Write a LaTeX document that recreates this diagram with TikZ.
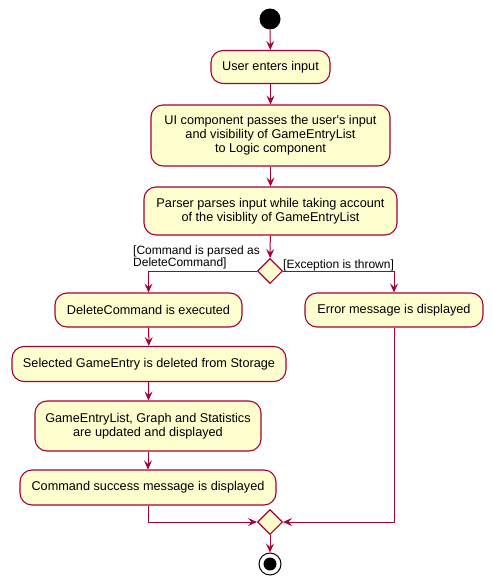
\documentclass[tikz,border=0pt]{standalone}
\usepackage{fontspec}
\setmainfont{Liberation Sans}
\usetikzlibrary{arrows.meta,shapes.geometric}
\definecolor{umlred}{HTML}{A80036}
\definecolor{umlfill}{HTML}{FEFECE}
\tikzset{
  act/.style={draw=umlred, fill=umlfill, line width=1.1pt, rounded corners=12pt, align=center,
    inner sep=0pt, font=\fontsize{12.7}{14}\selectfont},
  flow/.style={draw=umlred, line width=1pt, -{Stealth[length=9pt,width=8pt,inset=3.5pt]}},
  dec/.style={diamond, draw=umlred, fill=umlfill, line width=1.1pt, minimum width=25pt, minimum height=25pt, inner sep=0pt},
  guard/.style={font=\fontsize{12}{12}\selectfont, inner sep=0pt, align=left},
}
\begin{document}
\begin{tikzpicture}[x=1pt,y=-1pt]
\useasboundingbox (0,0) rectangle (492,586);
\node[circle, fill=black, minimum size=21pt, inner sep=0pt] (start) at (270,19) {};
\node[act, minimum width=119pt, minimum height=33pt] (u) at (270.5,67) {User enters input};
\node[act, minimum width=239pt, minimum height=61pt] (ui) at (270.5,135.5) {UI component passes the user\textquotesingle s input\\and visibility of GameEntryList\\to Logic component};
\node[act, minimum width=253pt, minimum height=48pt] (p) at (270.5,211) {Parser parses input while taking account\\of the visiblity of GameEntryList};
\node[dec] (d) at (270,271) {};
\node[act, minimum width=187pt, minimum height=34pt] (del) at (148.5,310) {DeleteCommand is executed};
\node[act, minimum width=178pt, minimum height=34pt] (err) at (394,310) {Error message is displayed};
\node[act, minimum width=274pt, minimum height=35pt] (sel) at (149,364) {Selected GameEntry is deleted from Storage};
\node[act, minimum width=226pt, minimum height=50pt] (gel) at (148,426) {GameEntryList, Graph and Statistics\\are updated and displayed};
\node[act, minimum width=256pt, minimum height=35pt] (cs) at (148,487.5) {Command success message is displayed};
\node[dec] (m) at (270,522) {};
\node[circle, draw=black, fill=white, line width=1pt, minimum size=22pt, inner sep=0pt] (endo) at (270,564) {};
\node[circle, fill=black, minimum size=13pt, inner sep=0pt] (endi) at (270,564) {};
\node[guard, anchor=north west] (lg) at (133,246) {[Command is parsed as\\DeleteCommand]};
\node[guard, anchor=west] (rg) at (283,265) {[Exception is thrown]};
\coordinate (lc) at (del.north |- d.west);
\coordinate (rc) at (err.north |- d.east);
\coordinate (lb) at (cs.south |- m.west);
\coordinate (rb) at (err.south |- m.east);
\draw[flow] (start) -- (u);
\draw[flow] (u) -- (ui);
\draw[flow] (ui) -- (p);
\draw[flow] (p) -- (d);
\draw[flow] (d.west) -- (lc) -- (del.north);
\draw[flow] (d.east) -- (rc) -- (err.north);
\draw[flow] (del) -- (sel);
\draw[flow] (sel) -- (gel);
\draw[flow] (gel) -- (cs);
\draw[flow] (cs.south) -- (lb) -- (m.west);
\draw[flow] (err.south) -- (rb) -- (m.east);
\draw[flow] (m) -- (endo);
\end{tikzpicture}
\end{document}
